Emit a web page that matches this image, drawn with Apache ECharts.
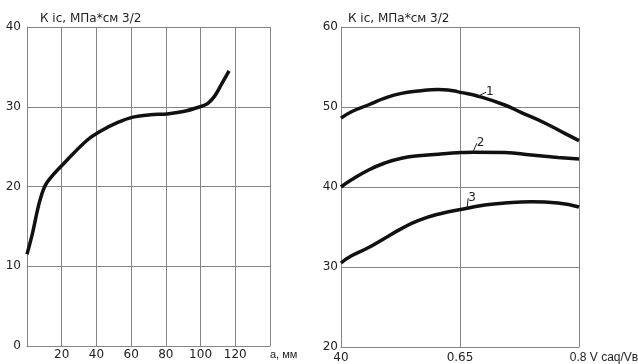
<!DOCTYPE html>
<html><head><meta charset="utf-8">
<script src="https://cdn.jsdelivr.net/npm/echarts@6/dist/echarts.min.js"></script>
<style>html,body{margin:0;padding:0;background:#fff}#c{width:638px;height:364px}</style>
</head><body><div id="c"></div>
<script>
// Left chart: K1c vs crack length a, mm
const leftTitle = 'К іс, МПа*см 3/2';
const leftXLabels = {0: '', 20: '20', 40: '40', 60: '60', 80: '80', 100: '100', 120: '120', 140: '{s|а, мм}'};
const leftCurve = [[0,11.5],[2.9,13.9],[7.5,18.3],[11.5,20.5],[23,23.3],[34.6,25.8],[42,26.9],[52,28.0],[61,28.7],[71,29.0],[80.7,29.1],[90,29.4],[99.7,30.0],[104,30.4],[108,31.3],[112,32.8],[116.4,34.5]];

// Right chart: K1c vs V caq/Vв
const rightTitle = 'К іс, МПа*см 3/2';
const rightXLabels = {40: '40', 65: '0.65', 90: '{s|0.8 V caq/Vв}'};
const curve1 = [[0.40,48.6],[0.422,49.4],[0.457,50.25],[0.492,51.1],[0.527,51.7],[0.562,52.0],[0.604,52.2],[0.632,52.05],[0.654,51.8],[0.688,51.35],[0.744,50.25],[0.779,49.3],[0.828,48.0],[0.87,46.7],[0.90,45.8]];
const curve2 = [[0.40,40.0],[0.422,40.9],[0.457,42.1],[0.492,43.0],[0.527,43.6],[0.562,43.9],[0.604,44.1],[0.654,44.3],[0.677,44.35],[0.744,44.3],[0.80,44.0],[0.856,43.7],[0.90,43.5]];
const curve3 = [[0.40,30.5],[0.422,31.4],[0.457,32.4],[0.492,33.6],[0.527,34.8],[0.562,35.8],[0.604,36.6],[0.665,37.35],[0.702,37.75],[0.744,38.0],[0.80,38.15],[0.856,38.0],[0.90,37.5]];
const curveNames = ['1','2','3'];
const curveLabelAt = [0.688, 0.677, 0.665];
const curveLabelShift = [[8,-4],[4,-9],[1,-10]];

const FONT = 'DejaVu Sans';
const gridColor = '#858585';
const txt = {color:'#222', fontFamily: FONT, fontSize: 12};

function withLabel(data, labelX, name){
  return data.map(p => p[0] === labelX
    ? {value: p, symbolSize: 0, label: {show: true, formatter: name, position: 'right', distance: 0}}
    : {value: p, symbolSize: 0});
}

const chart = echarts.init(document.getElementById('c'));
const curveSeries = [curve1, curve2, curve3].map((d, i) => ({
  type: 'line', xAxisIndex: 1, yAxisIndex: 1, smooth: true,
  showSymbol: true, symbol: 'circle', symbolSize: 0,
  data: withLabel(d, curveLabelAt[i], curveNames[i]),
  lineStyle: {color: '#111', width: 3.5},
  itemStyle: {color: '#111'},
  label: {show: false, color: '#222', fontFamily: FONT, fontSize: 12},
  labelLayout: {dx: curveLabelShift[i][0], dy: curveLabelShift[i][1]},
  labelLine: {show: true, lineStyle: {color: '#222', width: 1}},
  emphasis: {disabled: true},
  animation: false
}));

chart.setOption({
  animation: false,
  title: [
    {text: leftTitle, left: 35, top: 8, textStyle: Object.assign({}, txt, {fontWeight: 'normal'})},
    {text: rightTitle, left: 343, top: 8, textStyle: Object.assign({}, txt, {fontWeight: 'normal'})}
  ],
  grid: [
    {left: 27, right: 368, top: 27, bottom: 18, outerBoundsMode: 'none', containLabel: false},
    {left: 341, right: 59, top: 27, bottom: 17, outerBoundsMode: 'none', containLabel: false}
  ],
  xAxis: [
    {type: 'value', gridIndex: 0, min: 0, max: 140, interval: 20,
     axisLine: {lineStyle: {color: gridColor}}, axisTick: {show: false},
     splitLine: {show: true, lineStyle: {color: gridColor}},
     axisLabel: Object.assign({}, txt, {margin: 3, alignMaxLabel: 'left',
       rich: {s: {color: '#222', fontFamily: 'Liberation Sans', fontSize: 11}},
       formatter: v => leftXLabels[v] ?? ''})},
    {type: 'value', gridIndex: 1, min: 0.4, max: 0.9, interval: 0.25,
     axisLine: {lineStyle: {color: gridColor}}, axisTick: {show: false},
     splitLine: {show: true, lineStyle: {color: gridColor}},
     axisLabel: Object.assign({}, txt, {margin: 5, alignMaxLabel: 'center',
       rich: {s: {color: '#222', fontFamily: 'Liberation Sans', fontSize: 12, padding: [0, 0, 0, 50]}},
       formatter: v => rightXLabels[Math.round(v*100)] ?? ''})}
  ],
  yAxis: [
    {type: 'value', gridIndex: 0, min: 0, max: 40, interval: 10,
     axisLine: {show: true, lineStyle: {color: gridColor}}, axisTick: {show: false},
     splitLine: {show: true, lineStyle: {color: gridColor}},
     axisLabel: Object.assign({}, txt, {margin: 6})},
    {type: 'value', gridIndex: 1, min: 20, max: 60, interval: 10,
     axisLine: {show: true, lineStyle: {color: gridColor}}, axisTick: {show: false},
     splitLine: {show: true, lineStyle: {color: gridColor}},
     axisLabel: Object.assign({}, txt, {margin: 3})}
  ],
  series: [
    {type: 'line', xAxisIndex: 0, yAxisIndex: 0, smooth: 0.35, showSymbol: false, symbol: 'none',
     data: leftCurve, lineStyle: {color: '#111', width: 3.5}}
  ].concat(curveSeries)
});
</script></body></html>
